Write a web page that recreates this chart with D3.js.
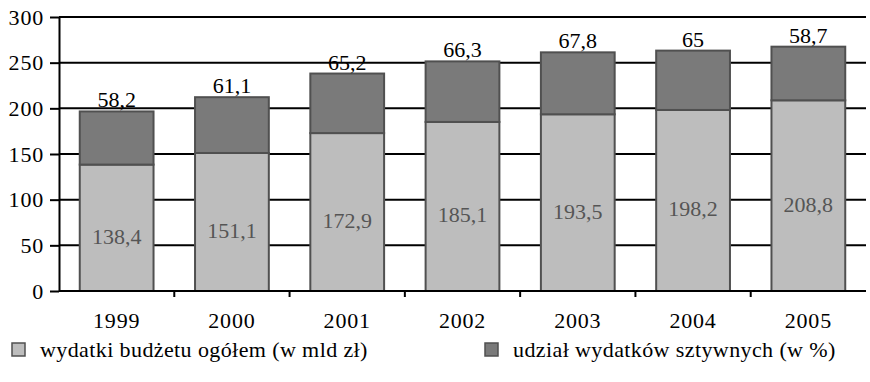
<!DOCTYPE html>
<html>
<head>
<meta charset="utf-8">
<script src="https://cdn.jsdelivr.net/npm/d3@7"></script>
<style>
  html, body { margin: 0; padding: 0; background: #fff; }
  svg { display: block; }
</style>
</head>
<body>
<svg id="chart" width="870" height="382" font-family="'Liberation Serif', 'DejaVu Serif', serif"></svg>
<script>
// Budget data, 1999–2005
const years = ["1999", "2000", "2001", "2002", "2003", "2004", "2005"];
const totalSpending = [138.4, 151.1, 172.9, 185.1, 193.5, 198.2, 208.8];   // wydatki budżetu ogółem (mld zł)
const rigidShare = [58.2, 61.1, 65.2, 66.3, 67.8, 65, 58.7];               // udział wydatków sztywnych (%)
const yTicks = [0, 50, 100, 150, 200, 250, 300];
const legendLabels = ["wydatki budżetu ogółem (w mld zł)", "udział wydatków sztywnych (w %)"];

const fmt = v => String(v).replace(".", ",");

const svg = d3.select("#chart");
const margin = { left: 59, right: 4, top: 17, bottom: 90 };
const W = 870, H = 382;

const x = d3.scaleBand()
  .domain(years)
  .range([margin.left, W - margin.right])
  .paddingInner(0.36)
  .paddingOuter(0.18);

const y = d3.scaleLinear()
  .domain([0, 300])
  .range([291, margin.top]);

const rows = years.map((yr, i) => ({ year: yr, total: totalSpending[i], rigid: rigidShare[i] }));
const stacked = d3.stack().keys(["total", "rigid"])(rows);

const colors = { total: "#bdbdbd", rigid: "#7a7a7a" };
const stroke = "#505050";

// horizontal gridlines
svg.append("g")
  .selectAll("line")
  .data(yTicks.filter(t => t > 0))
  .join("line")
  .attr("x1", margin.left)
  .attr("x2", W - margin.right)
  .attr("y1", d => y(d))
  .attr("y2", d => y(d))
  .attr("stroke", "#000")
  .attr("stroke-width", 2);

// stacked bars
svg.append("g")
  .selectAll("g")
  .data(stacked)
  .join("g")
  .attr("fill", d => colors[d.key])
  .selectAll("rect")
  .data(d => d)
  .join("rect")
  .attr("x", d => x(d.data.year))
  .attr("width", x.bandwidth())
  .attr("y", d => y(d[1]))
  .attr("height", d => y(d[0]) - y(d[1]))
  .attr("stroke", stroke)
  .attr("stroke-width", 2);

// y axis
const yAxis = d3.axisLeft(y).tickValues(yTicks).tickSize(9).tickSizeOuter(0).tickPadding(6);
const ya = svg.append("g").attr("transform", `translate(${margin.left},0)`).call(yAxis)
  .attr("font-family", null).attr("font-size", null);
ya.select(".domain").attr("stroke", "#000").attr("stroke-width", 2);
ya.selectAll(".tick line").attr("stroke", "#000").attr("stroke-width", 2);
ya.selectAll(".tick text").attr("font-size", 22).attr("fill", "#000").attr("letter-spacing", 0.8);

// x axis baseline with category separators
const xa = svg.append("g").attr("transform", `translate(0,${y(0)})`);
xa.append("line")
  .attr("x1", margin.left).attr("x2", W - margin.right)
  .attr("stroke", "#000").attr("stroke-width", 2);
const step = x.step();
const bounds = years.slice(1).map(yr => x(yr) - step * x.paddingInner() / 2);
xa.selectAll("line.sep")
  .data(bounds)
  .join("line")
  .attr("class", "sep")
  .attr("x1", d => d).attr("x2", d => d)
  .attr("y1", 0).attr("y2", 6)
  .attr("stroke", "#000").attr("stroke-width", 2);
xa.selectAll("text")
  .data(years)
  .join("text")
  .attr("x", d => x(d) + x.bandwidth() / 2)
  .attr("y", 37)
  .attr("text-anchor", "middle")
  .attr("font-size", 22)
  .attr("letter-spacing", 0.8)
  .text(d => d);

// values inside the lower segment
svg.append("g")
  .selectAll("text")
  .data(rows)
  .join("text")
  .attr("x", d => x(d.year) + x.bandwidth() / 2)
  .attr("y", d => (y(0) + y(d.total)) / 2 + 16)
  .attr("text-anchor", "middle")
  .attr("font-size", 22)
  .attr("fill", "#555")
  .text(d => fmt(d.total));

// values above the upper segment
svg.append("g")
  .selectAll("text")
  .data(rows)
  .join("text")
  .attr("x", d => x(d.year) + x.bandwidth() / 2)
  .attr("y", d => y(d.total + d.rigid) - 4)
  .attr("text-anchor", "middle")
  .attr("font-size", 22)
  .attr("fill", "#000")
  .text(d => fmt(d.rigid));

// legend
const legendX = [12, 485];
const lg = svg.append("g")
  .selectAll("g")
  .data(legendLabels)
  .join("g")
  .attr("transform", (d, i) => `translate(${legendX[i]},343)`);
lg.append("rect")
  .attr("width", 13).attr("height", 13)
  .attr("fill", (d, i) => i === 0 ? colors.total : colors.rigid)
  .attr("stroke", stroke).attr("stroke-width", 1.5);
lg.append("text")
  .attr("x", 28).attr("y", 14)
  .attr("font-size", 22)
  .attr("letter-spacing", 0.4)
  .text(d => d);
</script>
</body>
</html>
